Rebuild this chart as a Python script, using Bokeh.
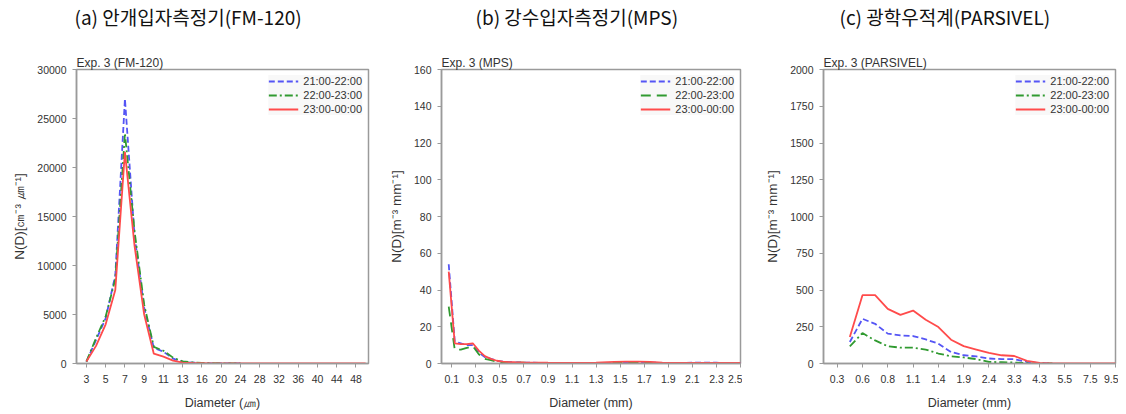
from bokeh.plotting import figure
from bokeh.layouts import row
from bokeh.models import Title, Legend, LegendItem, FixedTicker, Range1d
from bokeh.embed import file_html
from bokeh.resources import INLINE

nan = float("nan")

# ---------------- data ----------------
periods = ["21:00-22:00", "22:00-23:00", "23:00-00:00"]

# (a) FM-120 : bin diameters (um) -> plotted on bin index
fm_bins = [3, 4, 5, 6, 7, 8, 9, 10, 11, 12, 13, 14, 16, 18, 20, 22, 24, 26, 28, 30,
           32, 34, 36, 38, 40, 42, 44, 46, 48, 50]
fm_ticklabels = [3, 5, 7, 9, 11, 13, 16, 20, 24, 28, 32, 36, 40, 44, 48]
fm_21 = [200, 2400, 4600, 9000, 27000, 13000, 5700, 1600, 1200, 500, 180, 90, 50, 20, 10, 5, 0,
         nan, nan, nan, nan, nan, nan, nan, nan, nan, nan, nan, nan, nan]
fm_22 = [200, 2600, 4800, 8600, 23500, 13500, 6000, 1700, 1300, 600, 220, 120, 60, 30, 12, 5, 0,
         nan, nan, nan, nan, nan, nan, nan, nan, nan, nan, nan, nan, nan]
fm_23 = [200, 1800, 4000, 7500, 21600, 12000, 5000, 1000, 700, 300, 90, 50, 30, 10, 5, 0, 0,
         0, 0, 0, 0, 0, 0, 0, 0, 0, 0, 0, 0, 0]

# (b) MPS : diameter (mm)
mps_d = [0.075, 0.125, 0.175, 0.225, 0.275, 0.325, 0.375, 0.425, 0.475, 0.525, 0.575, 0.625,
         0.7, 0.9, 1.1, 1.3, 1.45, 1.55, 1.65, 1.75, 1.85, 2.0, 2.2, 2.3, 2.4, 2.5]
mps_21 = [54, 12, 11, 10, 10, 6, 3.5, 2.5, 1.5, 1.0, 0.8, 0.6,
          0.5, 0.3, 0.3, 0.3, 0.4, 0.5, 0.6, 0.5, 0.3, 0.3, 0.5, 0.4, 0.3, 0.3]
mps_22 = [31, 7.5, 7.5, 8.5, 9.5, 5, 2.5, 1.8, 1.0, 0.7, 0.5, 0.4,
          0.4, 0.3, 0.2, 0.2, 0.3, 0.4, 0.4, 0.3, 0.2, 0.2, 0.2, 0.2, 0.2, 0.2]
mps_23 = [50, 11, 10.5, 10.5, 11, 7, 4, 2.5, 1.5, 1.0, 0.8, 0.7,
          0.6, 0.4, 0.3, 0.4, 0.9, 1.0, 1.0, 0.9, 0.4, 0.3, 0.3, 0.3, 0.3, 0.3]
mps_ticks = [0.1, 0.3, 0.5, 0.7, 0.9, 1.1, 1.3, 1.5, 1.7, 1.9, 2.1, 2.3, 2.5]

# (c) PARSIVEL : bin centre diameters (mm) -> plotted on bin index
par_bins = [0.062, 0.187, 0.312, 0.437, 0.562, 0.687, 0.812, 0.937, 1.062, 1.187, 1.375,
            1.625, 1.875, 2.125, 2.375, 2.75, 3.25, 3.75, 4.25, 4.75, 5.5, 6.5, 7.5, 8.5, 9.5]
par_ticklabels = ["0.3", "0.6", "0.8", "1.1", "1.4", "1.9", "2.4", "3.3", "4.3", "5.5", "7.5", "9.5"]
par_21 = [nan, nan, nan, 146, 304, 270, 203, 191, 187, 164, 135, 78, 56, 48, 34, 30, 29, 11, 3, 0,
          nan, nan, nan, nan, nan]
par_22 = [nan, nan, nan, 117, 207, 157, 117, 108, 108, 95, 68, 49, 41, 30, 11, 9, 7, 2, 0, 0,
          nan, nan, nan, nan, nan]
par_23 = [nan, nan, nan, 180, 465, 465, 372, 331, 360, 297, 248, 162, 118, 95, 72, 56, 51, 18, 4, 1,
          0, 0, 0, 0, 0]

# ---------------- style ----------------
BLUE = "#5555f5"
GREEN = "#309a30"
RED = "#ff4b4b"
FONT = "Liberation Sans"
KFONT = "Noto Sans CJK KR"
GRAY = "#9a9a9a"


def make_fig(heading, sub, xr, yr, yticks, ylabel, xlabel, w, bl, br, head_off):
    p = figure(width=w, height=412, title=None, output_backend="svg", toolbar_location=None,
               x_range=xr, y_range=yr, min_border_left=bl, min_border_right=br,
               min_border_top=67, min_border_bottom=49)
    # small sub-title right above the frame
    p.add_layout(Title(text=sub, align="left", text_font=FONT, text_font_size="12px",
                       text_font_style="normal", text_color="#333333", standoff=0), "above")
    # spacer between the sub-title and the panel heading
    p.add_layout(Title(text=" ", align="left", text_font=FONT, text_font_size="1px",
                       text_font_style="normal", standoff=21), "above")
    # panel heading
    p.add_layout(Title(text=heading, align="left", text_font=KFONT, text_font_size="19px",
                       text_font_style="normal", text_color="#111111", standoff=0,
                       offset=head_off), "above")
    p.xgrid.visible = False
    p.ygrid.visible = False
    p.outline_line_color = GRAY
    p.outline_line_width = 1.5
    for ax in (p.xaxis[0], p.yaxis[0]):
        ax.axis_line_color = GRAY
        ax.axis_line_width = 1.5
        ax.major_tick_line_color = GRAY
        ax.major_tick_out = 4
        ax.major_tick_in = 0
        ax.minor_tick_line_color = None
        ax.major_label_text_font = FONT
        ax.major_label_text_font_size = "10.5px"
        ax.major_label_text_color = "#333333"
        ax.axis_label_text_font = FONT
        ax.axis_label_text_font_size = "12.5px"
        ax.axis_label_text_font_style = "normal"
        ax.axis_label_text_color = "#333333"
    p.yaxis.ticker = FixedTicker(ticks=yticks)
    p.yaxis.axis_label = ylabel
    p.yaxis.axis_label_text_font_size = "13.5px"
    p.yaxis.major_label_standoff = 6
    p.yaxis.axis_label_standoff = 7
    p.xaxis.axis_label = xlabel
    p.xaxis.major_label_standoff = 7
    p.xaxis.axis_label_standoff = 10
    return p


def add_lines(p, x, ys, dashes):
    rs = []
    for y, c, d in zip(ys, (BLUE, GREEN, RED), dashes):
        rs.append(p.line(x, y, line_color=c, line_width=1.8, line_dash=d))
    leg = Legend(items=[LegendItem(label=lab, renderers=[r]) for lab, r in zip(periods, rs)],
                 location="top_right", border_line_color=None,
                 background_fill_color="#f8f8f8", background_fill_alpha=1.0,
                 glyph_width=30, glyph_height=12, label_height=12, spacing=2,
                 padding=3, margin=6, label_standoff=5,
                 label_text_font=FONT, label_text_font_size="11px", label_text_color="#333333")
    p.add_layout(leg)


# (a)
idx_fm = list(range(len(fm_bins)))
pa = make_fig("(a)  안개입자측정기(FM-120)", "Exp. 3 (FM-120)", Range1d(-1.03, 29.3), Range1d(0, 30000),
              [0, 5000, 10000, 15000, 20000, 25000, 30000], "N(D)[㎝⁻³ ㎛⁻¹]", "Diameter (㎛)",
              370, 76, 2, -2)
fm_tick_idx = [fm_bins.index(v) for v in fm_ticklabels]
pa.xaxis.ticker = FixedTicker(ticks=fm_tick_idx)
pa.xaxis.major_label_overrides = {i: str(v) for i, v in zip(fm_tick_idx, fm_ticklabels)}
add_lines(pa, idx_fm, [fm_21, fm_22, fm_23], ["6 3", "8 3 2 3", "solid"])

# (b)
pb = make_fig("(b)  강수입자측정기(MPS)", "Exp. 3 (MPS)", Range1d(0.015, 2.5), Range1d(0, 160),
              [0, 20, 40, 60, 80, 100, 120, 140, 160], "N(D)[m⁻³ mm⁻¹]", "Diameter (mm)",
              372, 71, 2, 34)
pb.xaxis.ticker = FixedTicker(ticks=mps_ticks)
pb.xaxis.major_label_overrides = {v: f"{v:.1f}" for v in mps_ticks}
add_lines(pb, mps_d, [mps_21, mps_22, mps_23], ["6 3", "10 6", "solid"])

# (c)
idx_par = list(range(len(par_bins)))
pc = make_fig("(c)  광학우적계(PARSIVEL)", "Exp. 3 (PARSIVEL)", Range1d(0.92, 24.0), Range1d(0, 2000),
              [0, 250, 500, 750, 1000, 1250, 1500, 1750, 2000], "N(D)[m⁻³ mm⁻¹]", "Diameter (mm)",
              376, 81, 3, 16)
par_tick_idx = list(range(2, 25, 2))
pc.xaxis.ticker = FixedTicker(ticks=par_tick_idx)
pc.xaxis.major_label_overrides = {i: lab for i, lab in zip(par_tick_idx, par_ticklabels)}
add_lines(pc, idx_par, [par_21, par_22, par_23], ["6 3", "8 3 2 3", "solid"])

layout = row(pa, pb, pc)
open("out.html", "w").write(file_html(layout, INLINE))
